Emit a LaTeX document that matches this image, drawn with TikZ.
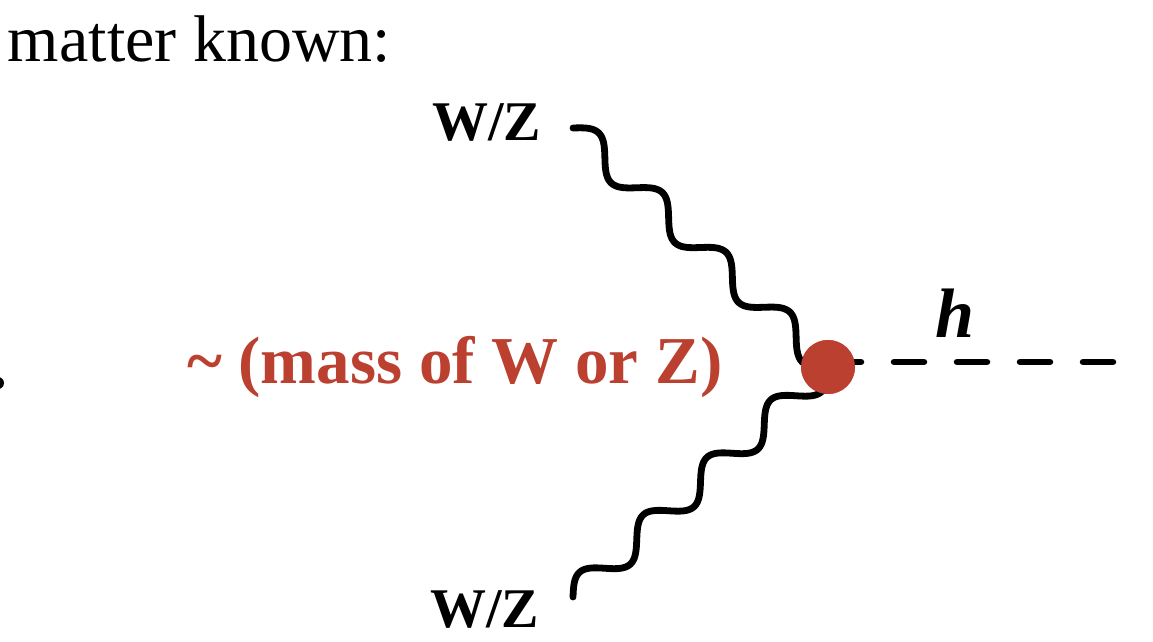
\documentclass[tikz,border=0pt]{standalone}
\usepackage{fontspec}
\setmainfont{Liberation Serif}
\usetikzlibrary{calc}
\definecolor{vred}{RGB}{187,64,48}
\tikzset{
  boson/.style={line width=6.8pt, line cap=round, line join=round},
  sinewave/.style={to path={
    let \p1=(\tikztostart), \p2=(\tikztotarget),
        \n2={atan2(\y2-\y1,\x2-\x1)} in
    plot[variable=\t, domain=0:1, samples=160, smooth]
      ({\x1+\t*(\x2-\x1)-14*sin(\t*1440)*sin(\n2)},
       {\y1+\t*(\y2-\y1)+14*sin(\t*1440)*cos(\n2)})}},
  scalar/.style={line width=6.5pt, line cap=round, dash pattern=on 30pt off 33pt},
  lbl/.style={anchor=base west, inner sep=0pt, outer sep=0pt},
}
\begin{document}
\begin{tikzpicture}[x=1pt,y=-1pt]
\useasboundingbox (0,0) rectangle (1153,641);
\node[lbl, font=\fontsize{66}{70}\selectfont] (title) at (8,61) {matter known:};
\fill (-2,383) circle (6);
\coordinate (wz1end) at (573,128);
\coordinate (wz2end) at (573,597);
\coordinate (hend) at (1115,362);
\node[circle, fill=vred, minimum size=54pt, inner sep=0pt] (v) at (828,367) {};
\draw[boson] (wz1end) to[sinewave] (v.center);
\draw[boson] (wz2end) to[sinewave] (v.center);
\draw[scalar] (831,362) -- (hend);
\fill[vred] (v) circle (27);
\node[lbl, font=\fontsize{56}{60}\selectfont\bfseries] (wz1) at (432,140) {W/Z};
\node[lbl, font=\fontsize{56}{60}\selectfont\bfseries] (wz2) at (430,627) {W/Z};
\node[lbl, font=\fontsize{70}{74}\selectfont\bfseries\itshape] (h) at (935,337) {h};
\node[lbl, text=vred, font=\fontsize{67}{70}\selectfont\bfseries] (mass) at (187,383) {\char`\~{} (mass of W or Z)};
\end{tikzpicture}
\end{document}
